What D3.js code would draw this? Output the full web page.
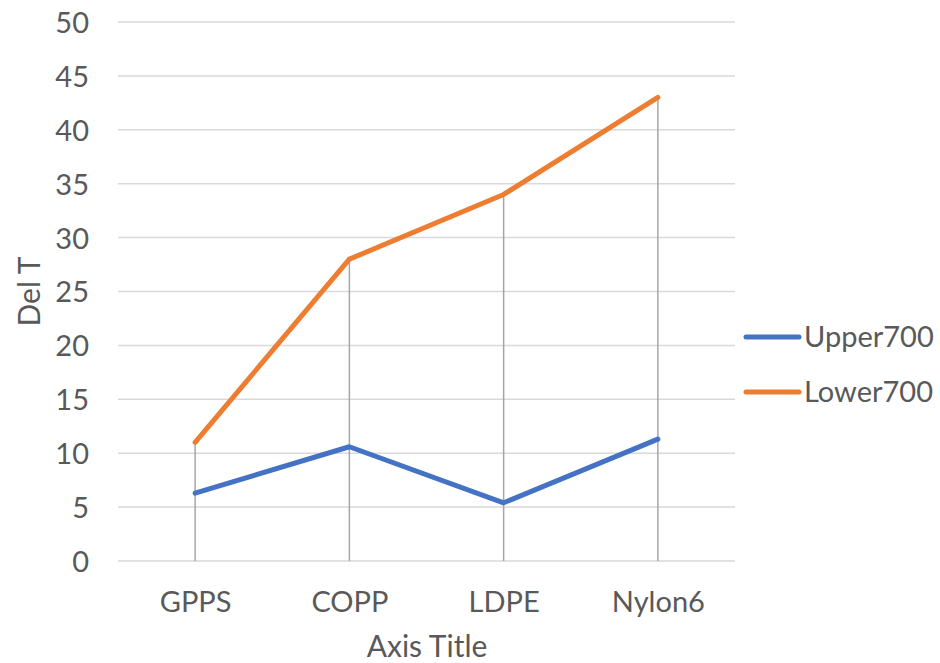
<!DOCTYPE html>
<html>
<head>
<meta charset="utf-8">
<script src="https://cdn.jsdelivr.net/npm/d3@7"></script>
<style>
  html, body { margin: 0; padding: 0; background: #fff; }
  svg { display: block; }
  text { font-family: "Lato", "Open Sans", sans-serif; fill: #595959; }
</style>
</head>
<body>
<svg id="chart" width="940" height="663"></svg>
<script>
// Temperature difference by polymer
const categories = ["GPPS", "COPP", "LDPE", "Nylon6"];
const upper700 = [6.3, 10.6, 5.4, 11.3];
const lower700 = [11, 28, 34, 43];
const yTicks = [0, 5, 10, 15, 20, 25, 30, 35, 40, 45, 50];
const seriesNames = ["Upper700", "Lower700"];
const seriesColors = ["#4472C4", "#ED7D31"];

const svg = d3.select("#chart");
const margin = { left: 118, right: 205, top: 22, bottom: 102 };
const W = 940, H = 663;
const fontSize = 29;

const x = d3.scalePoint()
  .domain(categories)
  .range([margin.left, W - margin.right])
  .padding(0.5);

const y = d3.scaleLinear()
  .domain([0, 50])
  .range([H - margin.bottom, margin.top]);

// Horizontal gridlines
svg.append("g")
  .selectAll("line")
  .data(yTicks)
  .join("line")
  .attr("x1", margin.left)
  .attr("x2", W - margin.right)
  .attr("y1", d => y(d))
  .attr("y2", d => y(d))
  .attr("stroke", "#D9D9D9")
  .attr("stroke-width", 1.5);

// Y axis labels
const yAxis = d3.axisLeft(y).tickValues(yTicks).tickSize(0).tickPadding(0);
const gy = svg.append("g")
  .attr("transform", `translate(${89},0)`)
  .call(yAxis);
gy.select(".domain").remove();
gy.selectAll("text")
  .attr("font-size", fontSize)
  .attr("fill", "#595959")
  .attr("dy", "0.36em")
  .style("font-family", "Lato, sans-serif");

// Drop lines from the highest point down to the axis
const maxVals = categories.map((c, i) => Math.max(upper700[i], lower700[i]));
svg.append("g")
  .selectAll("line")
  .data(categories)
  .join("line")
  .attr("x1", d => x(d))
  .attr("x2", d => x(d))
  .attr("y1", y(0))
  .attr("y2", (d, i) => y(maxVals[i]))
  .attr("stroke", "#A6A6A6")
  .attr("stroke-width", 1.5);

// X axis labels
const xAxis = d3.axisBottom(x).tickSize(0).tickPadding(0);
const gx = svg.append("g")
  .attr("transform", `translate(0,${y(0)})`)
  .call(xAxis);
gx.select(".domain").remove();
gx.selectAll("text")
  .attr("font-size", fontSize)
  .attr("fill", "#595959")
  .attr("dy", null)
  .attr("y", 51)
  .style("font-family", "Lato, sans-serif");

// Series lines
const allSeries = [upper700, lower700];
const line = d3.line()
  .x((d, i) => x(categories[i]))
  .y(d => y(d));

svg.append("g")
  .selectAll("path")
  .data(allSeries)
  .join("path")
  .attr("d", d => line(d))
  .attr("fill", "none")
  .attr("stroke", (d, i) => seriesColors[i])
  .attr("stroke-width", 5)
  .attr("stroke-linejoin", "round")
  .attr("stroke-linecap", "round");

// Axis titles
svg.append("text")
  .attr("x", 427)
  .attr("y", 657)
  .attr("text-anchor", "middle")
  .attr("font-size", 30)
  .text("Axis Title");

svg.append("text")
  .attr("transform", `translate(40,${(margin.top + H - margin.bottom) / 2}) rotate(-90)`)
  .attr("text-anchor", "middle")
  .attr("font-size", 30)
  .text("Del T");

// Legend
const legend = svg.append("g");
const legendY = [337, 392];
seriesNames.forEach((name, i) => {
  legend.append("line")
    .attr("x1", 746).attr("x2", 799)
    .attr("y1", legendY[i]).attr("y2", legendY[i])
    .attr("stroke", seriesColors[i])
    .attr("stroke-width", 5)
    .attr("stroke-linecap", "round");
  legend.append("text")
    .attr("x", 804)
    .attr("y", legendY[i])
    .attr("dy", "0.36em")
    .attr("font-size", fontSize)
    .text(name);
});
</script>
</body>
</html>
